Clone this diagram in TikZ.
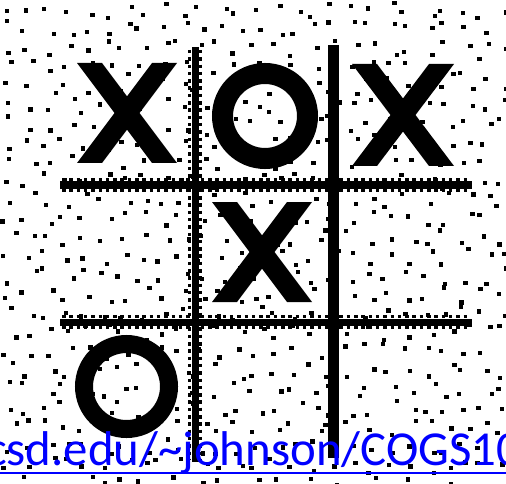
\documentclass[tikz,border=0pt]{standalone}
\usepackage{fontspec}
\newfontfamily\linkfont{Carlito}
\usetikzlibrary{calc}
\definecolor{ink}{HTML}{000000}
\definecolor{linkblue}{HTML}{0000FF}
\tikzset{bar/.style={line width=7bp, color=ink}, thickbar/.style={line width=11bp, color=ink}, teeth/.style={line width=3.5bp, color=ink, dash pattern=on 3.5bp off 3.8bp}, speck/.style={fill=ink}, ring/.style={draw=ink, line width=#1}, cross/.style={fill=ink}, linktext/.style={font=\linkfont\fontsize{49}{52}\selectfont, text=linkblue, inner sep=0pt}}
\newcommand{\drawcross}[3]{% centre x, centre y, half size
\fill[cross] (#1-#3,#2-#3) -- ++(25,0) -- (#1+#3,#2+#3) -- ++(-25,0) -- cycle;
\fill[cross] (#1+#3,#2-#3) -- ++(-25,0) -- (#1-#3,#2+#3) -- ++(25,0) -- cycle;}

\begin{document}
\begin{tikzpicture}[x=1bp, y=-1bp]
\useasboundingbox (0,0) rectangle (506,484);
\clip (0,0) rectangle (506,484);
\fill[white] (0,0) rectangle (506,484);
% noise
\pgfmathsetseed{4242}
\foreach \gx in {0,...,26} {\foreach \gy in {0,...,25} {\pgfmathsetmacro{\px}{\gx*19+rnd*16} \pgfmathsetmacro{\py}{\gy*19+rnd*16} \fill[speck] (\px,\py) rectangle ++(4.5,4.2);}}
% board
\draw[bar] (195,47) -- (195,462); \draw[thickbar] (333,45) -- (333,458);
\draw[bar] (60,185) -- (472,185); \draw[bar] (60,322) -- (472,322);
\draw[teeth] (189.5,50) -- (189.5,460); \draw[teeth] (200.5,50) -- (200.5,460);
\draw[teeth] (62,179.5) -- (470,179.5); \draw[teeth] (62,190.5) -- (470,190.5);
\draw[teeth] (62,316.5) -- (470,316.5); \draw[teeth] (62,327.5) -- (470,327.5);
% marks
\drawcross{127}{113}{50} \drawcross{403}{115}{51} \drawcross{262}{252}{50}
\draw[ring=21bp] (265,116) circle[radius=42.5]; \draw[ring=18bp] (126.5,386.5) circle[radius=42.5];
% link
\node[linktext, anchor=base west] (link) at (-14,465) {csd.edu/\string~johnson/COGS10};
\draw[linkblue, line width=2bp] ([yshift=-8bp]link.base west) -- ([yshift=-8bp]link.base east);
\end{tikzpicture}
\end{document}
